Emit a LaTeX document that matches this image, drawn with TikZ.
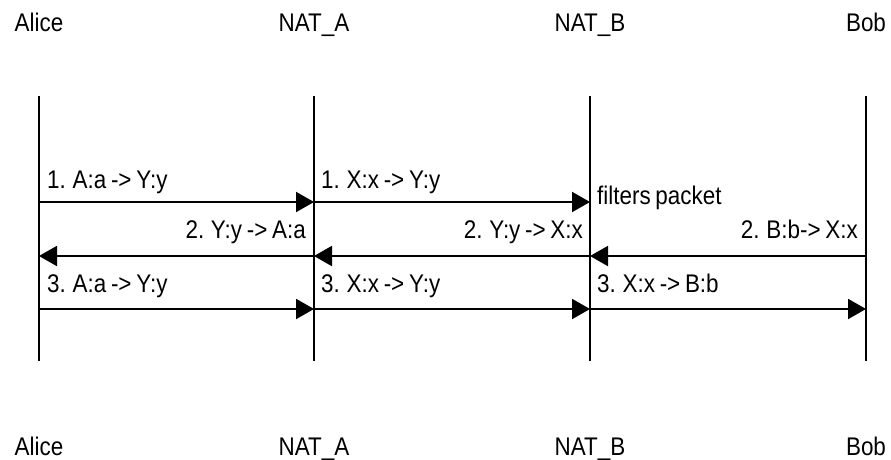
\documentclass[tikz,border=0pt]{standalone}
\usepackage{fontspec}
\setmainfont[FakeStretch=0.88,WordSpace=0.75]{Liberation Sans}
\usetikzlibrary{arrows.meta}
\begin{document}
\begin{tikzpicture}[x=1pt,y=1pt,
  lbl/.style={font=\fontsize{25.5}{28}\selectfont, inner sep=0pt},
  life/.style={line width=1.2pt},
  msg/.style={line width=2pt, -{Triangle[length=18pt,width=20pt]}},
]
\useasboundingbox (0,0) rectangle (891,-459);
% participants top
\node[lbl, anchor=base] (aliceT) at (39,-31) {Alice};
\node[lbl, anchor=base] (natAT) at (314,-31) {NAT\_A};
\node[lbl, anchor=base] (natBT) at (590,-31) {NAT\_B};
\node[lbl, anchor=base] (bobT) at (866,-31) {Bob};
% participants bottom
\node[lbl, anchor=base] (aliceB) at (39,-455) {Alice};
\node[lbl, anchor=base] (natAB) at (314,-455) {NAT\_A};
\node[lbl, anchor=base] (natBB) at (590,-455) {NAT\_B};
\node[lbl, anchor=base] (bobB) at (866,-455) {Bob};
% lifeline ends
\coordinate (a0) at (39,-96);  \coordinate (a9) at (39,-361);
\coordinate (na0) at (314,-96); \coordinate (na9) at (314,-361);
\coordinate (nb0) at (590,-96); \coordinate (nb9) at (590,-361);
\coordinate (b0) at (866,-96);  \coordinate (b9) at (866,-361);
\draw[life] (a0) -- (a9);
\draw[life] (na0) -- (na9);
\draw[life] (nb0) -- (nb9);
\draw[life] (b0) -- (b9);
% message points
\foreach \n/\x in {a/39, na/314, nb/590, b/866}{
  \coordinate (\n1) at (\x,-202);
  \coordinate (\n2) at (\x,-256);
  \coordinate (\n3) at (\x,-309);
}
% row 1
\draw[msg] (a1) -- (na1);
\draw[msg] (na1) -- (nb1);
\node[lbl, anchor=base west] (m1a) at (47,-188) {1. A:a -> Y:y};
\node[lbl, anchor=base west] (m1b) at (321,-188) {1. X:x -> Y:y};
\node[lbl, anchor=base west] (filt) at (597,-204) {filters packet};
% row 2
\draw[msg] (b2) -- (nb2);
\draw[msg] (nb2) -- (na2);
\draw[msg] (na2) -- (a2);
\node[lbl, anchor=base east] (m2a) at (306,-238) {2. Y:y -> A:a};
\node[lbl, anchor=base east] (m2b) at (583,-238) {2. Y:y -> X:x};
\node[lbl, anchor=base east] (m2c) at (858,-238) {2. B:b-> X:x};
% row 3
\draw[msg] (a3) -- (na3);
\draw[msg] (na3) -- (nb3);
\draw[msg] (nb3) -- (b3);
\node[lbl, anchor=base west] (m3a) at (47,-292) {3. A:a -> Y:y};
\node[lbl, anchor=base west] (m3b) at (321,-292) {3. X:x -> Y:y};
\node[lbl, anchor=base west] (m3c) at (597,-292) {3. X:x -> B:b};
\end{tikzpicture}
\end{document}
